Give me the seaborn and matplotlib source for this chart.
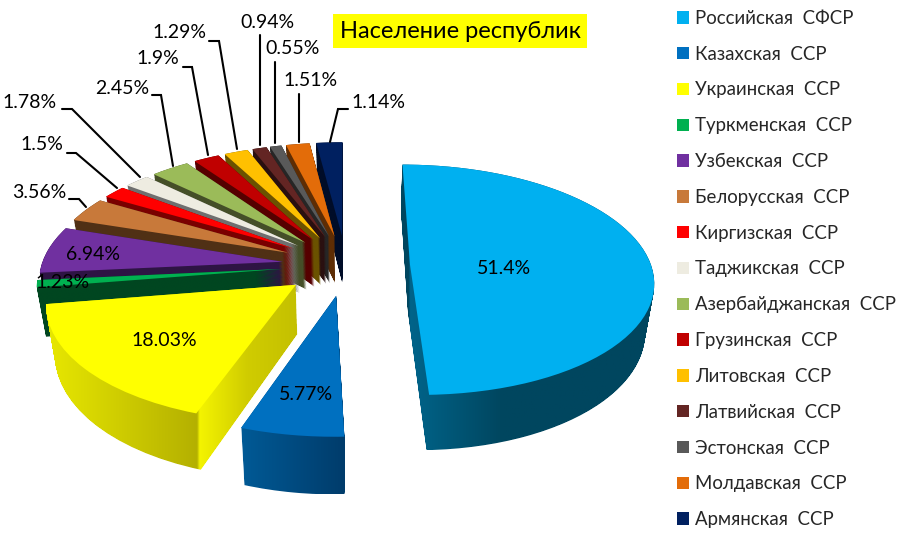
import numpy as np
import matplotlib
matplotlib.use("Agg")
import matplotlib.pyplot as plt
import seaborn as sns
from matplotlib.colors import LinearSegmentedColormap
from matplotlib.patches import Patch, PathPatch
from matplotlib.path import Path
from matplotlib.transforms import Affine2D

republics = ["Российская  СФСР", "Казахская  ССР", "Украинская  ССР", "Туркменская  ССР", "Узбекская  ССР",
             "Белорусская  ССР", "Киргизская  ССР", "Таджикская  ССР", "Азербайджанская  ССР", "Грузинская  ССР",
             "Литовская  ССР", "Латвийская  ССР", "Эстонская  ССР", "Молдавская  ССР", "Армянская  ССР"]
shares = [51.4, 5.77, 18.03, 1.23, 6.94, 3.56, 1.5, 1.78, 2.45, 1.9, 1.29, 0.94, 0.55, 1.51, 1.14]
share_labels = ["51.4%", "5.77%", "18.03%", "1.23%", "6.94%", "3.56%", "1.5%", "1.78%", "2.45%", "1.9%",
                "1.29%", "0.94%", "0.55%", "1.51%", "1.14%"]

top_colors = ["#00B0F0", "#0070C0", "#FFFF00", "#00B050", "#7030A0", "#C8793A", "#FF0000", "#EEECE1",
              "#9BBB59", "#C00000", "#FFC000", "#632523", "#595959", "#E36C09", "#002060"]
side_colors = ["#00465F", "#004070", "#C8C400", "#004620", "#2E1444", "#503015", "#7A0000", "#6F6F6F",
               "#454F28", "#560000", "#6B5200", "#2A1010", "#262626", "#5E2D04", "#000D28"]
# shaded sides on the three big slices, left to right
side_stops = {
    0: [(0, "#00465F"), (0.03, "#00465F"), (0.035, "#00648A"), (0.4, "#00465F"), (1, "#00465F")],
    1: [(0, "#005A96"), (1, "#003C6B")],
    2: [(0, "#E8E800"), (0.6, "#B4B000"), (0.61, "#F4F400"), (0.8, "#D0CC00"), (1, "#C4C000")],
}

# the 3D chart bends the slice angles: true angle -> drawn angle, clockwise from the top
true_angle = [0, 185, 205.8, 270.7, 275.1, 300.1, 312.9, 318.3, 324.8, 333.6, 340.4, 345.1, 348.4, 350.4, 355.9, 360]
drawn_angle = [0, 178, 199, 260.8, 264.4, 288, 300.4, 306.9, 314, 324.8, 332, 338.8, 342.7, 346, 352.7, 360]

sns.set_theme(style="white")
plt.rcParams["font.family"] = ["Lato", "Open Sans", "DejaVu Sans"]

# projection of the pie plane: lines running backwards meet at a vanishing point
cx, cy = 346, 265
radius = 241
shift = 64
y_scale = 0.47
k = 0.00055
depth = 48


def bend(outline, center):
    # move the outline points to the drawn angles, around the slice's own tip
    dx, dy = outline[:, 0] - center[0], outline[:, 1] - center[1]
    r = np.hypot(dx, dy)
    a = np.radians(np.interp(np.degrees(np.arctan2(dx, dy)) % 360, true_angle, drawn_angle))
    mid = np.radians(np.interp(np.degrees(np.arctan2(center[0], center[1])) % 360, true_angle, drawn_angle))
    return np.column_stack([shift * np.sin(mid) + r * np.sin(a), shift * np.cos(mid) + r * np.cos(a)])


def project(verts, t=0.0):
    x, y = verts[:, 0], verts[:, 1]
    s = 1 / (1 + k * y)
    return np.column_stack([cx + x * s * (1 - 0.03 * t), cy - y_scale * y * s + depth * t * s])


fig = plt.figure(figsize=(9.19, 5.35), dpi=100)
ax = fig.add_axes([0, 0, 1, 1])

explode = [shift / radius] * len(shares)
wedges, _ = ax.pie(shares, explode=explode, startangle=90, counterclock=False, radius=1)
outlines = []
for w in wedges:
    poly = w.get_path().transformed(Affine2D().scale(radius)).to_polygons()[0]
    outlines.append(bend(poly, np.array(w.center) * radius))
    w.remove()

# sides first, from the back to the front
order = np.argsort([-o[:, 1].mean() for o in outlines])
for n, i in enumerate(order):
    layers = [Path(project(outlines[i], t)) for t in np.linspace(0, 1, 60)]
    side = Path.make_compound_path(*layers)
    x0, y0 = side.vertices.min(axis=0)
    x1, y1 = side.vertices.max(axis=0)
    stops = side_stops.get(i, [(0, side_colors[i]), (1, side_colors[i])])
    cmap = LinearSegmentedColormap.from_list(f"side{i}", stops, N=512)
    im = ax.imshow(np.linspace(0, 1, 512)[None, :], cmap=cmap, extent=(x0, x1, y1, y0),
                   aspect="auto", zorder=1 + n * 0.01, interpolation="bilinear")
    im.set_clip_path(side, ax.transData)

for i in order:
    ax.add_patch(PathPatch(Path(project(outlines[i])), facecolor=top_colors[i], edgecolor="none", zorder=2))

ax.set_aspect("auto")
ax.set_xlim(0, 919)
ax.set_ylim(535, 0)
ax.axis("off")

# labels inside the slices
inside = {0: (504, 269), 1: (306, 394), 2: (164, 340), 3: (63, 283), 4: (93, 255)}
for i, (x, y) in inside.items():
    ax.text(x, y, share_labels[i], ha="center", va="center", fontsize=14, color="black", zorder=5)

# labels outside with leader lines
outside = {
    5: ((39, 192), [(69, 199), (79, 199), (86, 207)]),
    6: ((42, 145), [(67, 153), (76, 153), (117, 188)]),
    7: ((30, 103), [(62, 109), (72, 109), (140, 177)]),
    8: ((122, 88), [(152, 95), (161, 95), (173, 166)]),
    9: ((158, 59), [(183, 67), (192, 67), (208, 155)]),
    10: ((179, 33), [(209, 41), (219, 41), (237, 149)]),
    11: ((267, 22), [(260, 35), (260, 145)]),
    12: ((293, 49), [(275, 62), (275, 143)]),
    13: ((311, 81), [(299, 94), (299, 142)]),
    14: ((378, 102), [(348, 109), (338, 109), (330, 142)]),
}
for i, (pos, line) in outside.items():
    ax.text(pos[0], pos[1], share_labels[i], ha="center", va="center", fontsize=14, color="black", zorder=5)
    ax.plot(*zip(*line), color="black", lw=1.5, solid_joinstyle="miter", zorder=4)

ax.text(460, 31, "Население республик", ha="center", va="center", fontsize=17, color="black", zorder=5,
        bbox=dict(facecolor="#FFFF00", edgecolor="none", pad=5))

handles = [Patch(facecolor=c, edgecolor="none") for c in top_colors]
ax.legend(handles, republics, loc="upper left", bbox_to_anchor=(0.731, 0.992), frameon=False, fontsize=13.4,
          handlelength=0.65, handleheight=0.65, handletextpad=0.3, labelspacing=1.01, borderpad=0.3, borderaxespad=0)

fig.savefig("out.png", dpi=100)
